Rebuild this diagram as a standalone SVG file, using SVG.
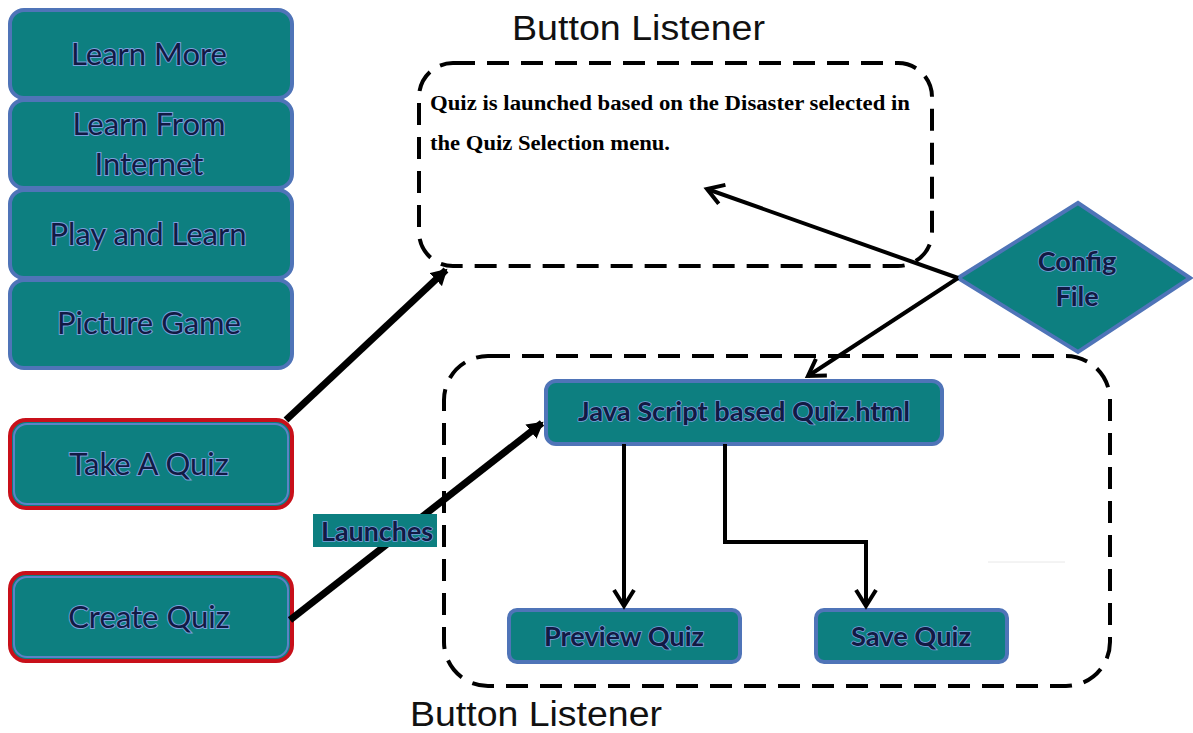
<svg xmlns="http://www.w3.org/2000/svg" width="1193" height="733" viewBox="0 0 1193 733">
<defs>
<style>
.box{fill:#0d7f80;stroke:#4f74b8;stroke-width:4}
.red{fill:#0d7f80;stroke:#c8101a;stroke-width:4}
.redin{fill:none;stroke:#5b82c6;stroke-width:2}
.lbl{font-family:Lato,"Open Sans","Liberation Sans",sans-serif;font-size:31px;fill:#121a44;stroke:#7aa0dc;stroke-width:2;paint-order:stroke;text-anchor:middle}
.nar{font-family:Lato,"Liberation Sans",sans-serif;font-weight:bold;font-size:27px;fill:#121a44;stroke:#7aa0dc;stroke-width:1.6;paint-order:stroke;text-anchor:middle}
.dash{fill:none;stroke:#000;stroke-width:4;stroke-dasharray:22 12}
.title{font-family:"Liberation Sans",Arial,sans-serif;font-size:35px;fill:#111}
.note{font-family:"Liberation Serif","Times New Roman",serif;font-weight:bold;font-size:20px;fill:#000}
</style>
<marker id="open" markerWidth="24" markerHeight="24" refX="20" refY="12" orient="auto" markerUnits="userSpaceOnUse" viewBox="0 0 24 24">
<path d="M4,2 L20,12 L4,22" fill="none" stroke="#000" stroke-width="4" stroke-linejoin="miter"/>
</marker>
<marker id="fill" markerWidth="18" markerHeight="18" refX="14" refY="9" orient="auto" markerUnits="userSpaceOnUse" viewBox="0 0 18 18">
<path d="M0,0 L16,9 L0,18 Z" fill="#000"/>
</marker>
</defs>
<rect width="1193" height="733" fill="#fff"/>

<text class="title" x="512" y="40" textLength="253" lengthAdjust="spacingAndGlyphs">Button Listener</text>
<text class="title" x="410" y="726" textLength="252" lengthAdjust="spacingAndGlyphs">Button Listener</text>

<g id="listener-top">
<rect class="dash" x="419" y="63" width="513" height="203" rx="34"/>
<text class="note" x="430" y="110" textLength="480" lengthAdjust="spacingAndGlyphs">Quiz is launched based on the Disaster selected in</text>
<text class="note" x="430" y="150" textLength="240" lengthAdjust="spacingAndGlyphs">the Quiz Selection menu.</text>
</g>

<g id="listener-bottom">
<rect class="dash" x="444" y="356" width="666" height="330" rx="44"/>
</g>

<g id="learn-more"><rect class="box" x="10" y="10" width="282" height="88" rx="14"/><text class="lbl" x="149" y="65">Learn More</text></g>
<g id="learn-internet"><rect class="box" x="10" y="100" width="282" height="88" rx="14"/><text class="lbl" x="149" y="135">Learn From</text><text class="lbl" x="149" y="175">Internet</text></g>
<g id="play-learn"><rect class="box" x="10" y="190" width="282" height="88" rx="14"/><text class="lbl" x="148" y="245">Play and Learn</text></g>
<g id="picture-game"><rect class="box" x="10" y="280" width="282" height="88" rx="14"/><text class="lbl" x="149" y="334">Picture Game</text></g>

<g id="take-quiz"><rect class="red" x="10" y="420" width="282" height="88" rx="16"/><rect class="redin" x="14" y="424" width="274" height="80" rx="13"/><text class="lbl" x="149" y="475">Take A Quiz</text></g>
<g id="create-quiz"><rect class="red" x="10" y="573" width="282" height="88" rx="16"/><rect class="redin" x="14" y="577" width="274" height="80" rx="13"/><text class="lbl" x="149" y="628">Create Quiz</text></g>

<g id="config-file"><polygon class="box" points="958,278 1078,203 1190,278 1078,352"/><text class="nar" x="1077" y="271">Config</text><text class="nar" x="1077" y="306">File</text></g>

<g id="js-quiz"><rect class="box" x="546" y="381" width="396" height="63" rx="10"/><text class="nar" x="744" y="421" textLength="332" lengthAdjust="spacingAndGlyphs">Java Script based  Quiz.html</text></g>
<g id="preview-quiz"><rect class="box" x="509" y="610" width="231" height="52" rx="8"/><text class="nar" x="624" y="646" textLength="160" lengthAdjust="spacingAndGlyphs">Preview Quiz</text></g>
<g id="save-quiz"><rect class="box" x="816" y="610" width="191" height="52" rx="8"/><text class="nar" x="911" y="646" textLength="120" lengthAdjust="spacingAndGlyphs">Save Quiz</text></g>

<g id="connectors">
<line x1="286" y1="420" x2="446" y2="270" stroke="#000" stroke-width="7" marker-end="url(#fill)"/>
<line x1="290" y1="620" x2="542" y2="423" stroke="#000" stroke-width="7" marker-end="url(#fill)"/>
<line x1="958" y1="278" x2="707" y2="189" stroke="#000" stroke-width="4" marker-end="url(#open)"/>
<line x1="958" y1="278" x2="808" y2="376" stroke="#000" stroke-width="4" marker-end="url(#open)"/>
<line x1="624" y1="444" x2="624" y2="606" stroke="#000" stroke-width="4" marker-end="url(#open)"/>
<polyline points="725,444 725,542 866,542 866,606" fill="none" stroke="#000" stroke-width="4" marker-end="url(#open)"/>
</g>

<g id="launches-label"><rect x="313" y="514" width="124" height="33" fill="#0d7f80"/><text class="nar" x="377" y="541" font-size="25" textLength="112" lengthAdjust="spacingAndGlyphs">Launches</text></g>

<line x1="988" y1="562" x2="1065" y2="562" stroke="#e8e8e8" stroke-width="1"/>
</svg>
